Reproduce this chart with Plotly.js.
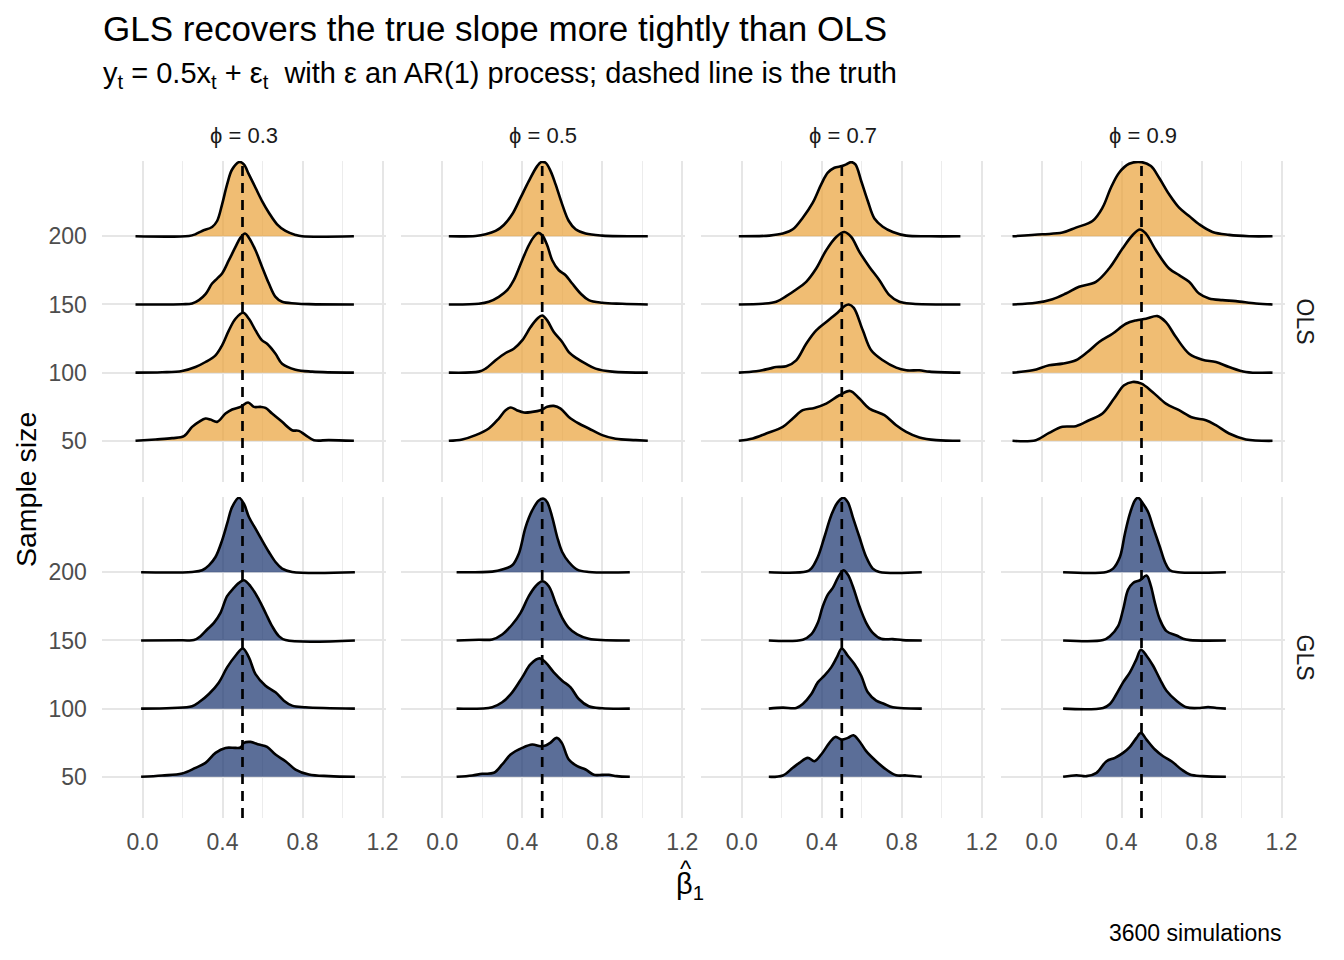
<!DOCTYPE html>
<html>
<head>
<meta charset="utf-8">
<title>GLS vs OLS slope ridgelines</title>
<script src="https://cdn.plot.ly/plotly-3.0.1.min.js"></script>
<style>
  body { margin: 0; background: #ffffff; }
  #tgtDraw { width: 1344px; height: 960px; }
</style>
</head>
<body>
<div id="tgtDraw"></div>
<script>
// facets and ridges
var phis = ["0.3", "0.5", "0.7", "0.9"];
var methods = ["OLS", "GLS"];
var sizes = [50, 100, 150, 200];
var truth = 0.5;
var xTicks = [0, 0.4, 0.8, 1.2];
var xTickText = ["0.0", "0.4", "0.8", "1.2"];

// density curves: [beta_hat, height]
// height is in units of the gap between two ridges
var ols_03_n200 = [[-0.035,0],[0.232,0.005],[0.265,0.03],[0.298,0.078],[0.348,0.137],[0.373,0.224],[0.398,0.468],[0.423,0.76],[0.448,0.98],[0.485,1.09],[0.507,1.054],[0.532,0.907],[0.565,0.712],[0.598,0.517],[0.632,0.346],[0.673,0.176],[0.715,0.078],[0.765,0.02],[0.798,0],[1.057,0]];
var ols_03_n150 = [[-0.035,0],[0.2,0.003],[0.248,0.015],[0.282,0.063],[0.315,0.151],[0.348,0.307],[0.373,0.38],[0.398,0.454],[0.432,0.649],[0.465,0.844],[0.49,0.98],[0.513,1.04],[0.532,0.98],[0.565,0.795],[0.598,0.551],[0.632,0.307],[0.665,0.112],[0.698,0.039],[0.765,0.015],[0.832,0.005],[1.057,0]];
var ols_03_n100 = [[-0.035,0],[0.098,0.005],[0.198,0.024],[0.265,0.083],[0.315,0.156],[0.365,0.254],[0.398,0.4],[0.432,0.62],[0.465,0.79],[0.503,0.878],[0.532,0.79],[0.565,0.62],[0.598,0.473],[0.623,0.424],[0.665,0.278],[0.698,0.132],[0.765,0.044],[0.848,0.015],[1.057,0]];
var ols_03_n50 = [[-0.035,0],[0.065,0.02],[0.148,0.039],[0.207,0.068],[0.248,0.205],[0.282,0.278],[0.315,0.327],[0.34,0.312],[0.373,0.278],[0.415,0.4],[0.448,0.459],[0.49,0.498],[0.528,0.561],[0.557,0.498],[0.59,0.498],[0.615,0.483],[0.648,0.4],[0.698,0.278],[0.748,0.156],[0.782,0.146],[0.815,0.083],[0.857,0.01],[0.932,0.01],[1.057,0]];

var ols_05_n200 = [[0.033,0],[0.167,0.005],[0.217,0.029],[0.267,0.078],[0.308,0.166],[0.35,0.322],[0.392,0.566],[0.433,0.809],[0.475,1.029],[0.495,1.088],[0.517,1.078],[0.542,0.956],[0.567,0.761],[0.6,0.468],[0.633,0.224],[0.667,0.102],[0.717,0.039],[0.8,0.01],[1.028,0]];
var ols_05_n150 = [[0.033,0],[0.183,0.01],[0.233,0.039],[0.283,0.112],[0.325,0.21],[0.358,0.356],[0.4,0.649],[0.433,0.868],[0.458,0.99],[0.48,1.049],[0.5,1.015],[0.525,0.868],[0.55,0.649],[0.583,0.502],[0.617,0.429],[0.65,0.307],[0.692,0.161],[0.733,0.063],[0.8,0.024],[0.9,0.01],[1.028,0]];
var ols_05_n100 = [[0.033,0],[0.183,0.015],[0.217,0.059],[0.267,0.181],[0.317,0.288],[0.358,0.351],[0.4,0.473],[0.442,0.668],[0.475,0.79],[0.5,0.839],[0.525,0.766],[0.558,0.595],[0.6,0.449],[0.633,0.302],[0.675,0.205],[0.717,0.132],[0.767,0.059],[0.85,0.015],[1.028,0]];
var ols_05_n50 = [[0.033,0],[0.1,0.02],[0.167,0.083],[0.233,0.181],[0.283,0.327],[0.317,0.449],[0.343,0.488],[0.373,0.449],[0.408,0.415],[0.45,0.424],[0.492,0.449],[0.525,0.498],[0.558,0.512],[0.592,0.473],[0.633,0.351],[0.683,0.254],[0.733,0.181],[0.8,0.083],[0.867,0.029],[0.967,0.01],[1.028,0]];

var ols_07_n200 = [[-0.015,0],[0.138,0.01],[0.205,0.039],[0.255,0.102],[0.305,0.273],[0.355,0.493],[0.397,0.761],[0.43,0.932],[0.463,1.005],[0.5,1.029],[0.522,1.054],[0.547,1.088],[0.568,1.054],[0.597,0.811],[0.63,0.517],[0.663,0.26],[0.705,0.14],[0.755,0.063],[0.822,0.01],[0.938,0],[1.093,0]];
var ols_07_n150 = [[-0.015,0],[0.105,0.01],[0.172,0.039],[0.222,0.122],[0.272,0.22],[0.322,0.332],[0.372,0.527],[0.422,0.795],[0.472,0.99],[0.513,1.063],[0.547,0.99],[0.588,0.771],[0.638,0.551],[0.688,0.356],[0.738,0.137],[0.788,0.039],[0.855,0.01],[1.093,0]];
var ols_07_n100 = [[-0.015,0],[0.072,0.02],[0.138,0.059],[0.172,0.083],[0.222,0.093],[0.272,0.181],[0.322,0.424],[0.372,0.619],[0.43,0.761],[0.48,0.883],[0.515,0.98],[0.535,1.0],[0.56,0.95],[0.605,0.62],[0.647,0.327],[0.705,0.181],[0.772,0.073],[0.822,0.034],[0.888,0.034],[0.938,0.015],[1.093,0]];
var ols_07_n50 = [[-0.015,0],[0.055,0.034],[0.122,0.107],[0.205,0.205],[0.255,0.327],[0.305,0.449],[0.363,0.483],[0.422,0.546],[0.488,0.668],[0.542,0.732],[0.588,0.62],[0.638,0.473],[0.713,0.376],[0.772,0.229],[0.822,0.132],[0.888,0.049],[0.972,0.01],[1.093,0]];

var ols_09_n200 = [[-0.145,0],[0.005,0.029],[0.105,0.054],[0.172,0.127],[0.255,0.224],[0.305,0.419],[0.347,0.712],[0.388,0.932],[0.438,1.063],[0.5,1.088],[0.547,1.029],[0.588,0.858],[0.638,0.615],[0.688,0.419],[0.738,0.297],[0.788,0.176],[0.855,0.063],[0.938,0.02],[1.038,0],[1.155,0]];
var ols_09_n150 = [[-0.145,0],[-0.028,0.024],[0.055,0.078],[0.122,0.161],[0.188,0.259],[0.272,0.332],[0.338,0.527],[0.405,0.82],[0.455,1.015],[0.492,1.1],[0.522,1.039],[0.572,0.795],[0.638,0.527],[0.688,0.429],[0.738,0.332],[0.788,0.161],[0.838,0.088],[0.905,0.063],[0.972,0.049],[1.072,0.015],[1.155,0]];
var ols_09_n100 = [[-0.145,0],[-0.045,0.034],[0.038,0.107],[0.105,0.132],[0.172,0.181],[0.23,0.302],[0.288,0.449],[0.355,0.571],[0.422,0.717],[0.472,0.766],[0.522,0.79],[0.58,0.829],[0.622,0.741],[0.672,0.522],[0.738,0.278],[0.805,0.19],[0.872,0.156],[0.938,0.083],[1.022,0.01],[1.155,0]];
var ols_09_n50 = [[-0.145,0],[-0.028,0.01],[0.038,0.117],[0.105,0.205],[0.172,0.215],[0.238,0.302],[0.305,0.4],[0.363,0.62],[0.413,0.815],[0.455,0.863],[0.5,0.839],[0.555,0.717],[0.622,0.546],[0.688,0.449],[0.755,0.341],[0.822,0.302],[0.872,0.229],[0.938,0.107],[1.022,0.02],[1.155,0]];

var gls_03_n200 = [[-0.007,0],[0.248,0.005],[0.298,0.029],[0.332,0.102],[0.365,0.224],[0.398,0.468],[0.423,0.712],[0.448,0.956],[0.482,1.093],[0.507,1.005],[0.532,0.81],[0.565,0.639],[0.598,0.468],[0.632,0.298],[0.665,0.151],[0.698,0.054],[0.748,0.005],[1.062,0]];
var gls_03_n150 = [[-0.007,0],[0.2,0.002],[0.257,0.005],[0.29,0.063],[0.323,0.161],[0.357,0.259],[0.39,0.405],[0.423,0.649],[0.457,0.771],[0.482,0.844],[0.507,0.883],[0.54,0.795],[0.582,0.6],[0.615,0.405],[0.648,0.21],[0.682,0.063],[0.715,0.005],[1.062,0]];
var gls_03_n100 = [[-0.007,0],[0.148,0.01],[0.248,0.034],[0.282,0.093],[0.332,0.215],[0.382,0.385],[0.423,0.605],[0.465,0.776],[0.502,0.883],[0.532,0.751],[0.565,0.507],[0.615,0.337],[0.665,0.239],[0.707,0.117],[0.748,0.044],[0.815,0.02],[1.062,0]];
var gls_03_n50 = [[-0.007,0],[0.098,0.02],[0.198,0.049],[0.265,0.132],[0.315,0.205],[0.365,0.351],[0.415,0.424],[0.465,0.424],[0.49,0.43],[0.507,0.498],[0.54,0.512],[0.582,0.473],[0.623,0.439],[0.665,0.327],[0.715,0.229],[0.765,0.107],[0.832,0.034],[0.932,0.01],[1.062,0]];

var gls_05_n200 = [[0.072,0],[0.25,0.01],[0.3,0.039],[0.35,0.102],[0.383,0.273],[0.417,0.663],[0.45,0.907],[0.483,1.054],[0.508,1.078],[0.525,1.029],[0.55,0.81],[0.575,0.517],[0.6,0.298],[0.633,0.151],[0.675,0.039],[0.733,0.005],[0.938,0]];
var gls_05_n150 = [[0.072,0],[0.183,0.01],[0.25,0.015],[0.3,0.088],[0.35,0.234],[0.392,0.405],[0.433,0.649],[0.467,0.795],[0.5,0.868],[0.533,0.795],[0.567,0.551],[0.6,0.332],[0.633,0.185],[0.675,0.088],[0.733,0.024],[0.938,0]];
var gls_05_n100 = [[0.072,0],[0.25,0.02],[0.3,0.093],[0.35,0.239],[0.4,0.459],[0.442,0.654],[0.487,0.737],[0.517,0.678],[0.558,0.532],[0.6,0.41],[0.642,0.312],[0.683,0.141],[0.733,0.034],[0.8,0.005],[0.938,0]];
var gls_05_n50 = [[0.072,0],[0.15,0.02],[0.2,0.044],[0.258,0.059],[0.3,0.181],[0.342,0.327],[0.4,0.424],[0.45,0.473],[0.492,0.449],[0.517,0.459],[0.54,0.498],[0.573,0.571],[0.598,0.498],[0.633,0.254],[0.675,0.156],[0.717,0.107],[0.758,0.03],[0.8,0.029],[0.833,0.03],[0.873,0.01],[0.938,0]];

var gls_07_n200 = [[0.135,0],[0.322,0.01],[0.347,0.054],[0.38,0.224],[0.413,0.517],[0.447,0.834],[0.48,1.029],[0.508,1.093],[0.53,1.029],[0.555,0.81],[0.588,0.517],[0.622,0.224],[0.655,0.054],[0.688,0.005],[0.9,0]];
var gls_07_n150 = [[0.135,0],[0.305,0.01],[0.347,0.088],[0.38,0.259],[0.405,0.502],[0.43,0.673],[0.455,0.771],[0.48,0.917],[0.508,1.029],[0.53,0.966],[0.555,0.795],[0.588,0.502],[0.622,0.259],[0.655,0.112],[0.697,0.024],[0.755,0.02],[0.805,0.005],[0.9,0]];
var gls_07_n100 = [[0.135,0],[0.205,0.015],[0.272,0.01],[0.305,0.068],[0.347,0.21],[0.38,0.385],[0.413,0.483],[0.447,0.605],[0.475,0.751],[0.5,0.883],[0.53,0.776],[0.563,0.654],[0.597,0.483],[0.63,0.239],[0.672,0.117],[0.713,0.068],[0.755,0.02],[0.9,0]];
var gls_07_n50 = [[0.135,0],[0.205,0.02],[0.255,0.132],[0.288,0.205],[0.33,0.278],[0.363,0.229],[0.397,0.327],[0.438,0.498],[0.468,0.585],[0.5,0.546],[0.53,0.571],[0.558,0.61],[0.588,0.522],[0.622,0.376],[0.672,0.229],[0.722,0.107],[0.772,0.024],[0.822,0.02],[0.9,0]];

var gls_09_n200 = [[0.108,0],[0.325,0.005],[0.358,0.054],[0.392,0.224],[0.417,0.566],[0.442,0.859],[0.467,1.054],[0.483,1.093],[0.508,1.005],[0.533,0.883],[0.558,0.663],[0.592,0.371],[0.617,0.151],[0.642,0.029],[0.683,0],[0.922,0]];
var gls_09_n150 = [[0.108,0],[0.308,0.005],[0.342,0.063],[0.383,0.21],[0.408,0.454],[0.433,0.746],[0.458,0.844],[0.492,0.883],[0.525,0.951],[0.545,0.82],[0.567,0.551],[0.592,0.307],[0.625,0.137],[0.675,0.073],[0.708,0.024],[0.742,0.005],[0.922,0]];
var gls_09_n100 = [[0.108,0],[0.308,0.01],[0.342,0.068],[0.375,0.215],[0.408,0.385],[0.442,0.532],[0.475,0.727],[0.497,0.863],[0.525,0.776],[0.558,0.629],[0.592,0.434],[0.625,0.263],[0.675,0.117],[0.725,0.02],[0.792,0.01],[0.833,0.024],[0.875,0.01],[0.922,0]];
var gls_09_n50 = [[0.108,0],[0.175,0.024],[0.225,0.01],[0.275,0.059],[0.325,0.229],[0.367,0.278],[0.408,0.351],[0.442,0.439],[0.475,0.571],[0.497,0.644],[0.525,0.546],[0.567,0.4],[0.608,0.302],[0.65,0.229],[0.7,0.107],[0.742,0.034],[0.808,0.01],[0.922,0]];

// curves[method][phi] -> [n50, n100, n150, n200]
var curves = {
	OLS: [
		[ols_03_n50, ols_03_n100, ols_03_n150, ols_03_n200],
		[ols_05_n50, ols_05_n100, ols_05_n150, ols_05_n200],
		[ols_07_n50, ols_07_n100, ols_07_n150, ols_07_n200],
		[ols_09_n50, ols_09_n100, ols_09_n150, ols_09_n200]
	],
	GLS: [
		[gls_03_n50, gls_03_n100, gls_03_n150, gls_03_n200],
		[gls_05_n50, gls_05_n100, gls_05_n150, gls_05_n200],
		[gls_07_n50, gls_07_n100, gls_07_n150, gls_07_n200],
		[gls_09_n50, gls_09_n100, gls_09_n150, gls_09_n200]
	]
};

var fills = { OLS: "rgba(234,161,55,0.7)", GLS: "rgba(21,49,108,0.7)" };

var W = 1344, H = 960;
var FONT = "Liberation Sans, Arial, Helvetica, sans-serif";
var colLeft = [101.5, 401.2, 700.8, 1000.5];
var colWidth = 284;
var rowTop = [161, 497];
var rowBottom = [482, 818];
var ridgeGap = 50; // y units between two ridges

function px_x(v) { return v / W; }
function px_y(v) { return 1 - v / H; }

function build_plot()
{
	var data = [];
	var shapes = [];
	var layout = {
		width: W,
		height: H,
		margin: { l: 0, r: 0, t: 0, b: 0 },
		paper_bgcolor: "#ffffff",
		plot_bgcolor: "rgba(0,0,0,0)",
		showlegend: false,
		font: { family: FONT, color: "#000000" }
	};

	for (var r = 0; r < methods.length; r++)
	{
		for (var c = 0; c < phis.length; c++)
		{
			var idx = r * phis.length + c + 1;
			var xName = idx == 1 ? "xaxis" : "xaxis" + idx;
			var yName = idx == 1 ? "yaxis" : "yaxis" + idx;
			var xRef = idx == 1 ? "x" : "x" + idx;
			var yRef = idx == 1 ? "y" : "y" + idx;

			layout[xName] = {
				domain: [px_x(colLeft[c]), px_x(colLeft[c] + colWidth)],
				anchor: yRef,
				range: [-0.205, 1.215],
				tickmode: "array",
				tickvals: xTicks,
				ticktext: xTickText,
				showticklabels: r == methods.length - 1,
				ticks: "outside",
				ticklen: 3,
				tickcolor: "rgba(0,0,0,0)",
				tickfont: { family: FONT, size: 23, color: "#4D4D4D" },
				showgrid: true,
				gridcolor: "#E6E6E6",
				gridwidth: 2,
				minor: { dtick: 0.2, tick0: 0, showgrid: true, gridcolor: "#ECECEC", gridwidth: 1.2 },
				zeroline: false,
				showline: false,
				fixedrange: true
			};
			layout[yName] = {
				domain: [px_y(rowBottom[r]), px_y(rowTop[r])],
				anchor: xRef,
				range: [19.8, 255.2],
				tickmode: "array",
				tickvals: sizes,
				showticklabels: c == 0,
				ticks: "outside",
				ticklen: 9,
				tickcolor: "rgba(0,0,0,0)",
				tickfont: { family: FONT, size: 23, color: "#4D4D4D" },
				showgrid: true,
				gridcolor: "#E6E6E6",
				gridwidth: 2,
				zeroline: false,
				showline: false,
				fixedrange: true
			};

			// back ridge first so the lower ones sit in front
			var set = curves[methods[r]][c];
			for (var k = sizes.length - 1; k >= 0; k--)
			{
				var pts = set[k];
				var xs = [], ys = [];
				for (var p = 0; p < pts.length; p++)
				{
					xs.push(pts[p][0]);
					ys.push(sizes[k] + pts[p][1] * ridgeGap);
				}
				data.push({
					x: xs,
					y: ys,
					xaxis: xRef,
					yaxis: yRef,
					type: "scatter",
					mode: "lines",
					fill: "toself",
					fillcolor: fills[methods[r]],
					line: { color: "#000000", width: 2.6, shape: "spline", smoothing: 1.0 },
					cliponaxis: false,
					hoverinfo: "skip"
				});
			}

			// dashed line at the true slope
			shapes.push({
				type: "line",
				xref: xRef,
				yref: yRef + " domain",
				x0: truth, x1: truth,
				y0: 0, y1: 1,
				line: { color: "#000000", width: 2.7, dash: "10px,7px" }
			});
		}
	}
	layout.shapes = shapes;

	var ann = [];
	ann.push({ text: "GLS recovers the true slope more tightly than OLS", x: px_x(101), y: px_y(29),
		xanchor: "left", yanchor: "middle", font: { size: 35, color: "#000000" } });
	ann.push({ text: "y<sub>t</sub> = 0.5x<sub>t</sub> + \u03b5<sub>t</sub>\u00a0\u00a0with \u03b5 an AR(1) process; dashed line is the truth",
		x: px_x(101), y: px_y(75), xanchor: "left", yanchor: "middle", font: { size: 29, color: "#000000" } });
	for (var c2 = 0; c2 < phis.length; c2++)
	{
		ann.push({ text: "\u03d5 = " + phis[c2], x: px_x(colLeft[c2] + colWidth / 2), y: px_y(135),
			xanchor: "center", yanchor: "middle", font: { size: 22, color: "#1A1A1A" } });
	}
	for (var r2 = 0; r2 < methods.length; r2++)
	{
		ann.push({ text: methods[r2], x: px_x(1305), y: px_y((rowTop[r2] + rowBottom[r2]) / 2),
			xanchor: "center", yanchor: "middle", textangle: 90, font: { size: 23, color: "#1A1A1A" } });
	}
	// x title: beta with a hat and subscript 1
	ann.push({ text: "\u03b2<sub>1</sub>", x: px_x(690), y: px_y(886),
		xanchor: "center", yanchor: "middle", font: { size: 29, color: "#000000" } });
	ann.push({ text: "^", x: px_x(686), y: px_y(868),
		xanchor: "center", yanchor: "middle", font: { size: 24, color: "#000000" } });
	ann.push({ text: "Sample size", x: px_x(26), y: px_y(490), xanchor: "center", yanchor: "middle",
		textangle: -90, font: { size: 28.5, color: "#000000" } });
	ann.push({ text: "3600 simulations", x: px_x(1284), y: px_y(933), xanchor: "right", yanchor: "middle",
		font: { size: 23, color: "#000000" } });
	for (var a = 0; a < ann.length; a++)
	{
		ann[a].xref = "paper";
		ann[a].yref = "paper";
		ann[a].showarrow = false;
	}
	layout.annotations = ann;

	Plotly.newPlot("tgtDraw", data, layout, { displayModeBar: false, staticPlot: true });
}

build_plot();
</script>
</body>
</html>
